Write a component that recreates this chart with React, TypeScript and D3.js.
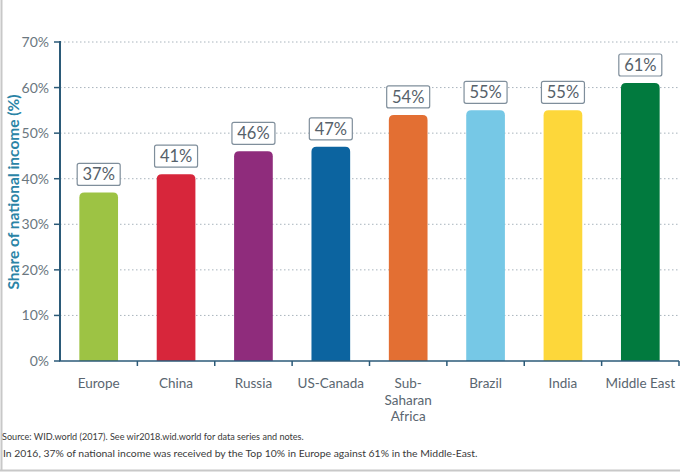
import React from "react";
import * as d3 from "d3";

const categories = ["Europe", "China", "Russia", "US-Canada", "Sub-Saharan Africa", "Brazil", "India", "Middle East"];
const categoryLines = [["Europe"], ["China"], ["Russia"], ["US-Canada"], ["Sub-", "Saharan", "Africa"], ["Brazil"], ["India"], ["Middle East"]];
const values = [37, 41, 46, 47, 54, 55, 55, 61];
const colors = ["#9dc344", "#d7263b", "#8f2c7c", "#0c64a0", "#e36f33", "#76c8e6", "#fdd73a", "#017a3e"];
const yTicks = [0, 10, 20, 30, 40, 50, 60, 70];

const W = 680, H = 472;
const left = 60, right = 679, top = 42, bottom = 361;
const axisColor = "#2b5a78";
const font = "Lato, 'Open Sans', sans-serif";

export default function App() {
  const x = d3.scaleBand<string>().domain(categories).range([left, right]).paddingInner(0).paddingOuter(0);
  const y = d3.scaleLinear().domain([0, 70]).range([bottom, top]);
  const bw = x.bandwidth() * 0.5;
  const r = 5;
  return (
    <svg width={W} height={H} style={{ position: "absolute", left: 0, top: 0, background: "#fff" }}>
      <rect x={0} y={0} width={W} height={H} fill="#fff" />
      <line x1={1.5} x2={1.5} y1={0} y2={470.5} stroke="#c8c8c8" strokeWidth={2} />
      <line x1={0} x2={W} y1={470.5} y2={470.5} stroke="#c8c8c8" strokeWidth={2} />
      {yTicks.filter((t) => t > 0).map((t) => (
        <line key={"g" + t} x1={left} x2={W} y1={y(t)} y2={y(t)} stroke="#a9b4bd" strokeWidth={1} strokeDasharray="1.5,2.5" />
      ))}
      {categories.map((c, i) => {
        const cx = x(c)! + x.bandwidth() / 2;
        const x0 = cx - bw / 2;
        const yt = y(values[i]);
        const path = `M${x0},${bottom} L${x0},${yt + r} Q${x0},${yt} ${x0 + r},${yt} L${x0 + bw - r},${yt} Q${x0 + bw},${yt} ${x0 + bw},${yt + r} L${x0 + bw},${bottom} Z`;
        return (
          <g key={c}>
            <path d={path} fill={colors[i]} />
            <rect x={cx - 21.5} y={yt - 29} width={43} height={22} rx={2} fill="#fff" stroke="#7f8e9b" strokeWidth={1.2} />
            <text x={cx} y={yt - 12} textAnchor="middle" fontFamily={font} fontSize={16.5} fill="#56616a">{values[i]}%</text>
          </g>
        );
      })}
      <line x1={left} x2={left} y1={top - 1} y2={bottom} stroke={axisColor} strokeWidth={2} />
      <line x1={left - 1} x2={right} y1={bottom} y2={bottom} stroke={axisColor} strokeWidth={1.5} />
      {yTicks.map((t) => (
        <g key={"y" + t}>
          <line x1={left - 6} x2={left} y1={y(t)} y2={y(t)} stroke={axisColor} strokeWidth={1.5} />
          <text x={left - 11} y={y(t) + 5} textAnchor="end" fontFamily={font} fontSize={14} fill="#6b7780">{t}%</text>
        </g>
      ))}
      {categories.map((c) => (
        <line key={"xt" + c} x1={x(c)! + x.bandwidth()} x2={x(c)! + x.bandwidth()} y1={bottom} y2={bottom + 5} stroke={axisColor} strokeWidth={1.5} />
      ))}
      {categories.map((c, i) => (
        <text key={"xl" + c} x={x(c)! + x.bandwidth() / 2} y={388} textAnchor="middle" fontFamily={font} fontSize={13.5} fill="#5a6670">
          {categoryLines[i].map((l, j) => (
            <tspan key={j} x={x(c)! + x.bandwidth() / 2} dy={j === 0 ? 0 : 16.5}>{l}</tspan>
          ))}
        </text>
      ))}
      <text transform={`translate(19,${192}) rotate(-90)`} textAnchor="middle" fontFamily={font} fontSize={15.5} fontWeight="bold" fill="#2b84a6">Share of national income (%)</text>
      <text x={2} y={439.5} fontFamily={font} fontSize={9.1} fill="#3a3a3a">Source: WID.world (2017). See wir2018.wid.world for data series and notes.</text>
      <text x={3} y={456.5} fontFamily={font} fontSize={10.4} fill="#3a3a3a">In 2016, 37% of national income was received by the Top 10% in Europe against 61% in the Middle-East.</text>
    </svg>
  );
}
